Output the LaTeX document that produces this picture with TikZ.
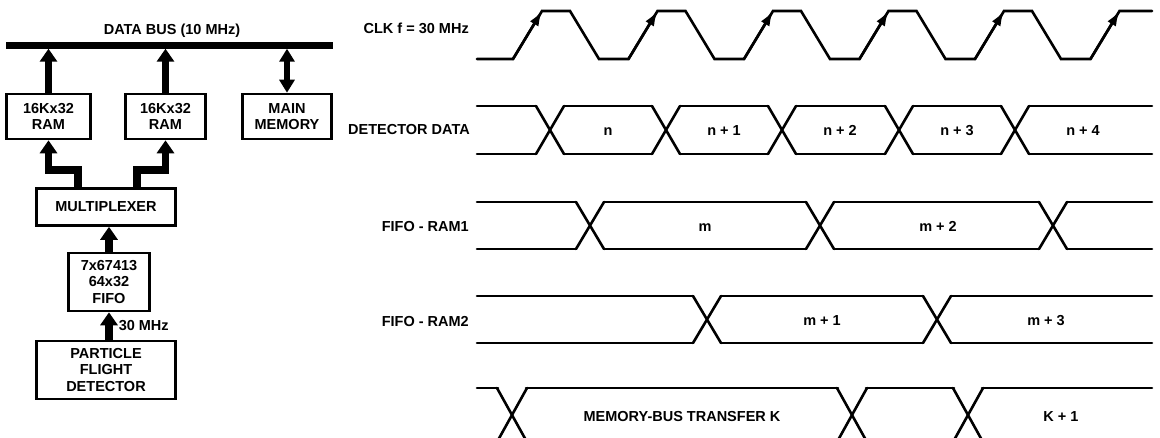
\documentclass[tikz,border=0pt]{standalone}
\usepackage{fontspec}
\setmainfont{Liberation Sans}
\usetikzlibrary{arrows.meta,calc}

\begin{document}
\begin{tikzpicture}[x=1pt, y=-1pt,
    lbl/.style={font=\fontsize{14.5}{16.5}\selectfont\bfseries, inner sep=0pt, align=center},
    val/.style={lbl, text height=10.5pt, text depth=0pt},
    blk/.style={lbl, draw, line width=2.6pt},
    fat/.style={line width=7.5pt, -{Triangle[width=17pt,length=13pt]}},
    sig/.style={line width=2.6pt, line cap=round}]
  \useasboundingbox (0,0) rectangle (1160,437);
  \clip (0,0) rectangle (1160,437);
  % block diagram
  \node[fill=black, inner sep=0pt, minimum width=327pt, minimum height=7pt] (bus) at (169.5,45) {};
  \node[lbl] (buslbl) at (172,31) {DATA BUS (10 MHz)};
  \node[blk, minimum width=84pt, minimum height=45pt] (ram1) at (48.5,116.5) {16Kx32\\RAM};
  \node[blk, minimum width=80pt, minimum height=45pt] (ram2) at (165.5,116.5) {16Kx32\\RAM};
  \node[blk, minimum width=89pt, minimum height=45pt] (mem)  at (287,116.5) {MAIN\\MEMORY};
  \node[blk, minimum width=139pt, minimum height=37pt] (mux) at (106,207) {MULTIPLEXER};
  \node[blk, minimum width=81pt, minimum height=58pt] (fifo) at (109,282) {7x67413\\64x32\\FIFO};
  \node[blk, minimum width=139pt, minimum height=58pt] (pfd) at (106,370) {PARTICLE\\FLIGHT\\DETECTOR};
  \draw[fat] (ram1.north) -- (ram1.north |- bus.south);
  \draw[fat] (ram2.north) -- (ram2.north |- bus.south);
  \draw[line width=6pt, {Triangle[width=15pt,length=13pt]}-{Triangle[width=15pt,length=13pt]}]
    (mem.north) -- (mem.north |- bus.south);
  \draw[fat] ([xshift=-28pt]mux.north) -- ++(0,-17) -| (ram1.south);
  \draw[fat] ([xshift=31pt]mux.north) -- ++(0,-17) -| (ram2.south);
  \draw[fat] (fifo.north) -- (fifo.north |- mux.south);
  \draw[fat] (fifo.south |- pfd.north) -- node[lbl, right=6pt] (rate) {30 MHz} (fifo.south);
  % timing
  \node[lbl, anchor=east] (clklbl) at (469,28) {CLK f = 30 MHz};
  \node[lbl, anchor=east] (datlbl) at (470,130) {DETECTOR DATA};
  \node[lbl, anchor=east] (r1lbl) at (469,227) {FIFO - RAM1};
  \node[lbl, anchor=east] (r2lbl) at (469,322) {FIFO - RAM2};
  \draw[sig] (477,59) \foreach \h in {542,657.5,773,888.5,1004} { -- (\h-29,59) -- (\h,11) -- (\h+28,11) -- (\h+57,59) }
    -- (1090.5,59) -- (1119.5,11) -- (1152,11);
  \foreach \h in {542,657.5,773,888.5,1004,1119.5}
    \draw[sig, -{Latex[length=15pt,width=10pt]}] (\h-29,59) -- (\h,11);
  % detector data
  \foreach \c [remember=\c as \p (initially 463)] in {550,666,782,899,1015,1166}
    \draw[sig] (\p+14,106) -- (\c-14,106) (\p+14,154) -- (\c-14,154);
  \foreach \c in {550,666,782,899,1015}
    \draw[sig] (\c-14,106) -- (\c+14,154) (\c-14,154) -- (\c+14,106);
  \foreach \x/\t in {608/n, 724/n + 1, 840/n + 2, 957/n + 3, 1083/n + 4}
    \node[val] (dat\x) at (\x,130) {\t};
  % fifo - ram1
  \foreach \c [remember=\c as \p (initially 463)] in {590,820,1053,1166}
    \draw[sig] (\p+14,202) -- (\c-14,202) (\p+14,249) -- (\c-14,249);
  \foreach \c in {590,820,1053}
    \draw[sig] (\c-14,202) -- (\c+14,249) (\c-14,249) -- (\c+14,202);
  \foreach \x/\t in {705/m, 938/m + 2}
    \node[val] (ra\x) at (\x,226) {\t};
  % fifo - ram2
  \foreach \c [remember=\c as \p (initially 463)] in {707,937,1166}
    \draw[sig] (\p+14,296) -- (\c-14,296) (\p+14,343) -- (\c-14,343);
  \foreach \c in {707,937}
    \draw[sig] (\c-14,296) -- (\c+14,343) (\c-14,343) -- (\c+14,296);
  \foreach \x/\t in {822/m + 1, 1046/m + 3}
    \node[val] (rb\x) at (\x,320) {\t};
  % memory bus
  \foreach \c [remember=\c as \p (initially 463)] in {512,852,968,1166}
    \draw[sig] (\p+14,388) -- (\c-14,388) (\p+15,442) -- (\c-15,442);
  \foreach \c in {512,852,968}
    \draw[sig] (\c-15,388) -- (\c+15,442) (\c-15,442) -- (\c+15,388);
  \foreach \x/\t in {682/MEMORY-BUS TRANSFER K, 1061/K + 1}
    \node[val] (mb\x) at (\x,416) {\t};
\end{tikzpicture}
\end{document}
